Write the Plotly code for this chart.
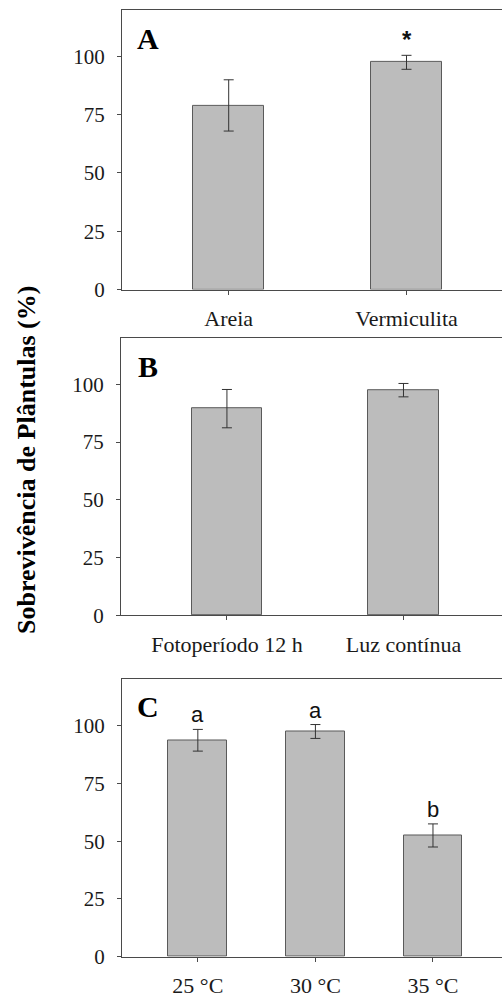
import plotly.graph_objects as go

W, H = 502, 1006

# ---- data ----
cat_a = ["Areia", "Vermiculita"]
val_a = [79.0, 97.5]
err_a = [11.0, 3.0]
sig_a = ["", "*"]

cat_b = ["Fotoperíodo 12 h", "Luz contínua"]
val_b = [89.5, 97.5]
err_b = [8.3, 2.9]
sig_b = ["", ""]

cat_c = ["25 °C", "30 °C", "35 °C"]
val_c = [93.7, 97.5, 52.5]
err_c = [4.7, 3.0, 5.0]
sig_c = ["a", "a", "b"]

y_ticks = [0, 25, 50, 75, 100]
panel_letters = ["A", "B", "C"]
y_title = "Sobrevivência de Plântulas (%)"

# ---- layout geometry (pixels) ----
panels = [
    dict(cats=cat_a, vals=val_a, errs=err_a, sig=sig_a, top=10, bottom=293, left=122,
         xr=[-0.6, 1.537], bw=0.4, letter_y=39, sigfont=dict(family="Liberation Sans", size=24, color="#111")),
    dict(cats=cat_b, vals=val_b, errs=err_b, sig=sig_b, top=342.3, bottom=622.7, left=121,
         xr=[-0.6, 1.558], bw=0.4, letter_y=371, sigfont=None),
    dict(cats=cat_c, vals=val_c, errs=err_c, sig=sig_c, top=687.7, bottom=968.3, left=122,
         xr=[-0.645, 2.587], bw=0.5, letter_y=715, sigfont=dict(family="Liberation Sans", size=22, color="#111")),
]

serif = "Liberation Serif"
fig = go.Figure()
annotations = []

for i, p in enumerate(panels):
    n = "" if i == 0 else str(i + 1)
    xa, ya = "x" + n, "y" + n
    fig.add_trace(go.Bar(
        x=p["cats"], y=p["vals"], width=p["bw"],
        marker=dict(color="#bcbcbc", line=dict(color="#5a5a5a", width=1)),
        error_y=dict(type="data", array=p["errs"], visible=True, color="#333333",
                     thickness=1, width=5),
        xaxis=xa, yaxis=ya, showlegend=False,
    ))
    fig.update_layout(**{
        "xaxis" + n: dict(
            domain=[p["left"] / W, 1], anchor=ya, range=p["xr"], type="category",
            showline=True, linecolor="#4a4a4a", linewidth=1, mirror=True,
            ticks="outside", ticklen=4, tickcolor="#4a4a4a", showgrid=False, zeroline=False,
            tickfont=dict(family=serif, size=22, color="#1a1a1a"), ticklabelstandoff=5,
        ),
        "yaxis" + n: dict(
            domain=[1 - p["bottom"] / H, 1 - p["top"] / H], anchor=xa, range=[0, 120],
            tickvals=y_ticks, showline=True, linecolor="#4a4a4a", linewidth=1, mirror=False,
            ticks="outside", ticklen=4, tickcolor="#4a4a4a", showgrid=False, zeroline=False,
            tickfont=dict(family=serif, size=21, color="#1a1a1a"), ticklabelstandoff=8,
        ),
    })
    annotations.append(dict(
        text="<b>%s</b>" % panel_letters[i], x=148 / W, y=1 - p["letter_y"] / H,
        xref="paper", yref="paper", xanchor="center", yanchor="middle", showarrow=False,
        font=dict(family=serif, size=30, color="#000"),
    ))
    for c, v, e, s in zip(p["cats"], p["vals"], p["errs"], p["sig"]):
        if s:
            annotations.append(dict(
                text=("<b>%s</b>" % s) if s == "*" else s, x=c, y=v + e, xref=xa, yref=ya,
                xanchor="center", yanchor="bottom", showarrow=False, font=p["sigfont"],
            ))

annotations.append(dict(
    text="<b>%s</b>" % y_title, x=27 / W, y=1 - 465.5 / H, xref="paper", yref="paper",
    xanchor="center", yanchor="middle", textangle=-90, showarrow=False,
    font=dict(family=serif, size=26, color="#000"),
))

fig.update_layout(
    width=W, height=H, margin=dict(l=0, r=0, t=0, b=0),
    paper_bgcolor="white", plot_bgcolor="white",
    annotations=annotations, bargap=0,
)

fig.write_html(
    "out.html",
    config={"displayModeBar": False},
    post_script="document.body.style.margin='0';document.body.style.overflow='hidden';",
)
